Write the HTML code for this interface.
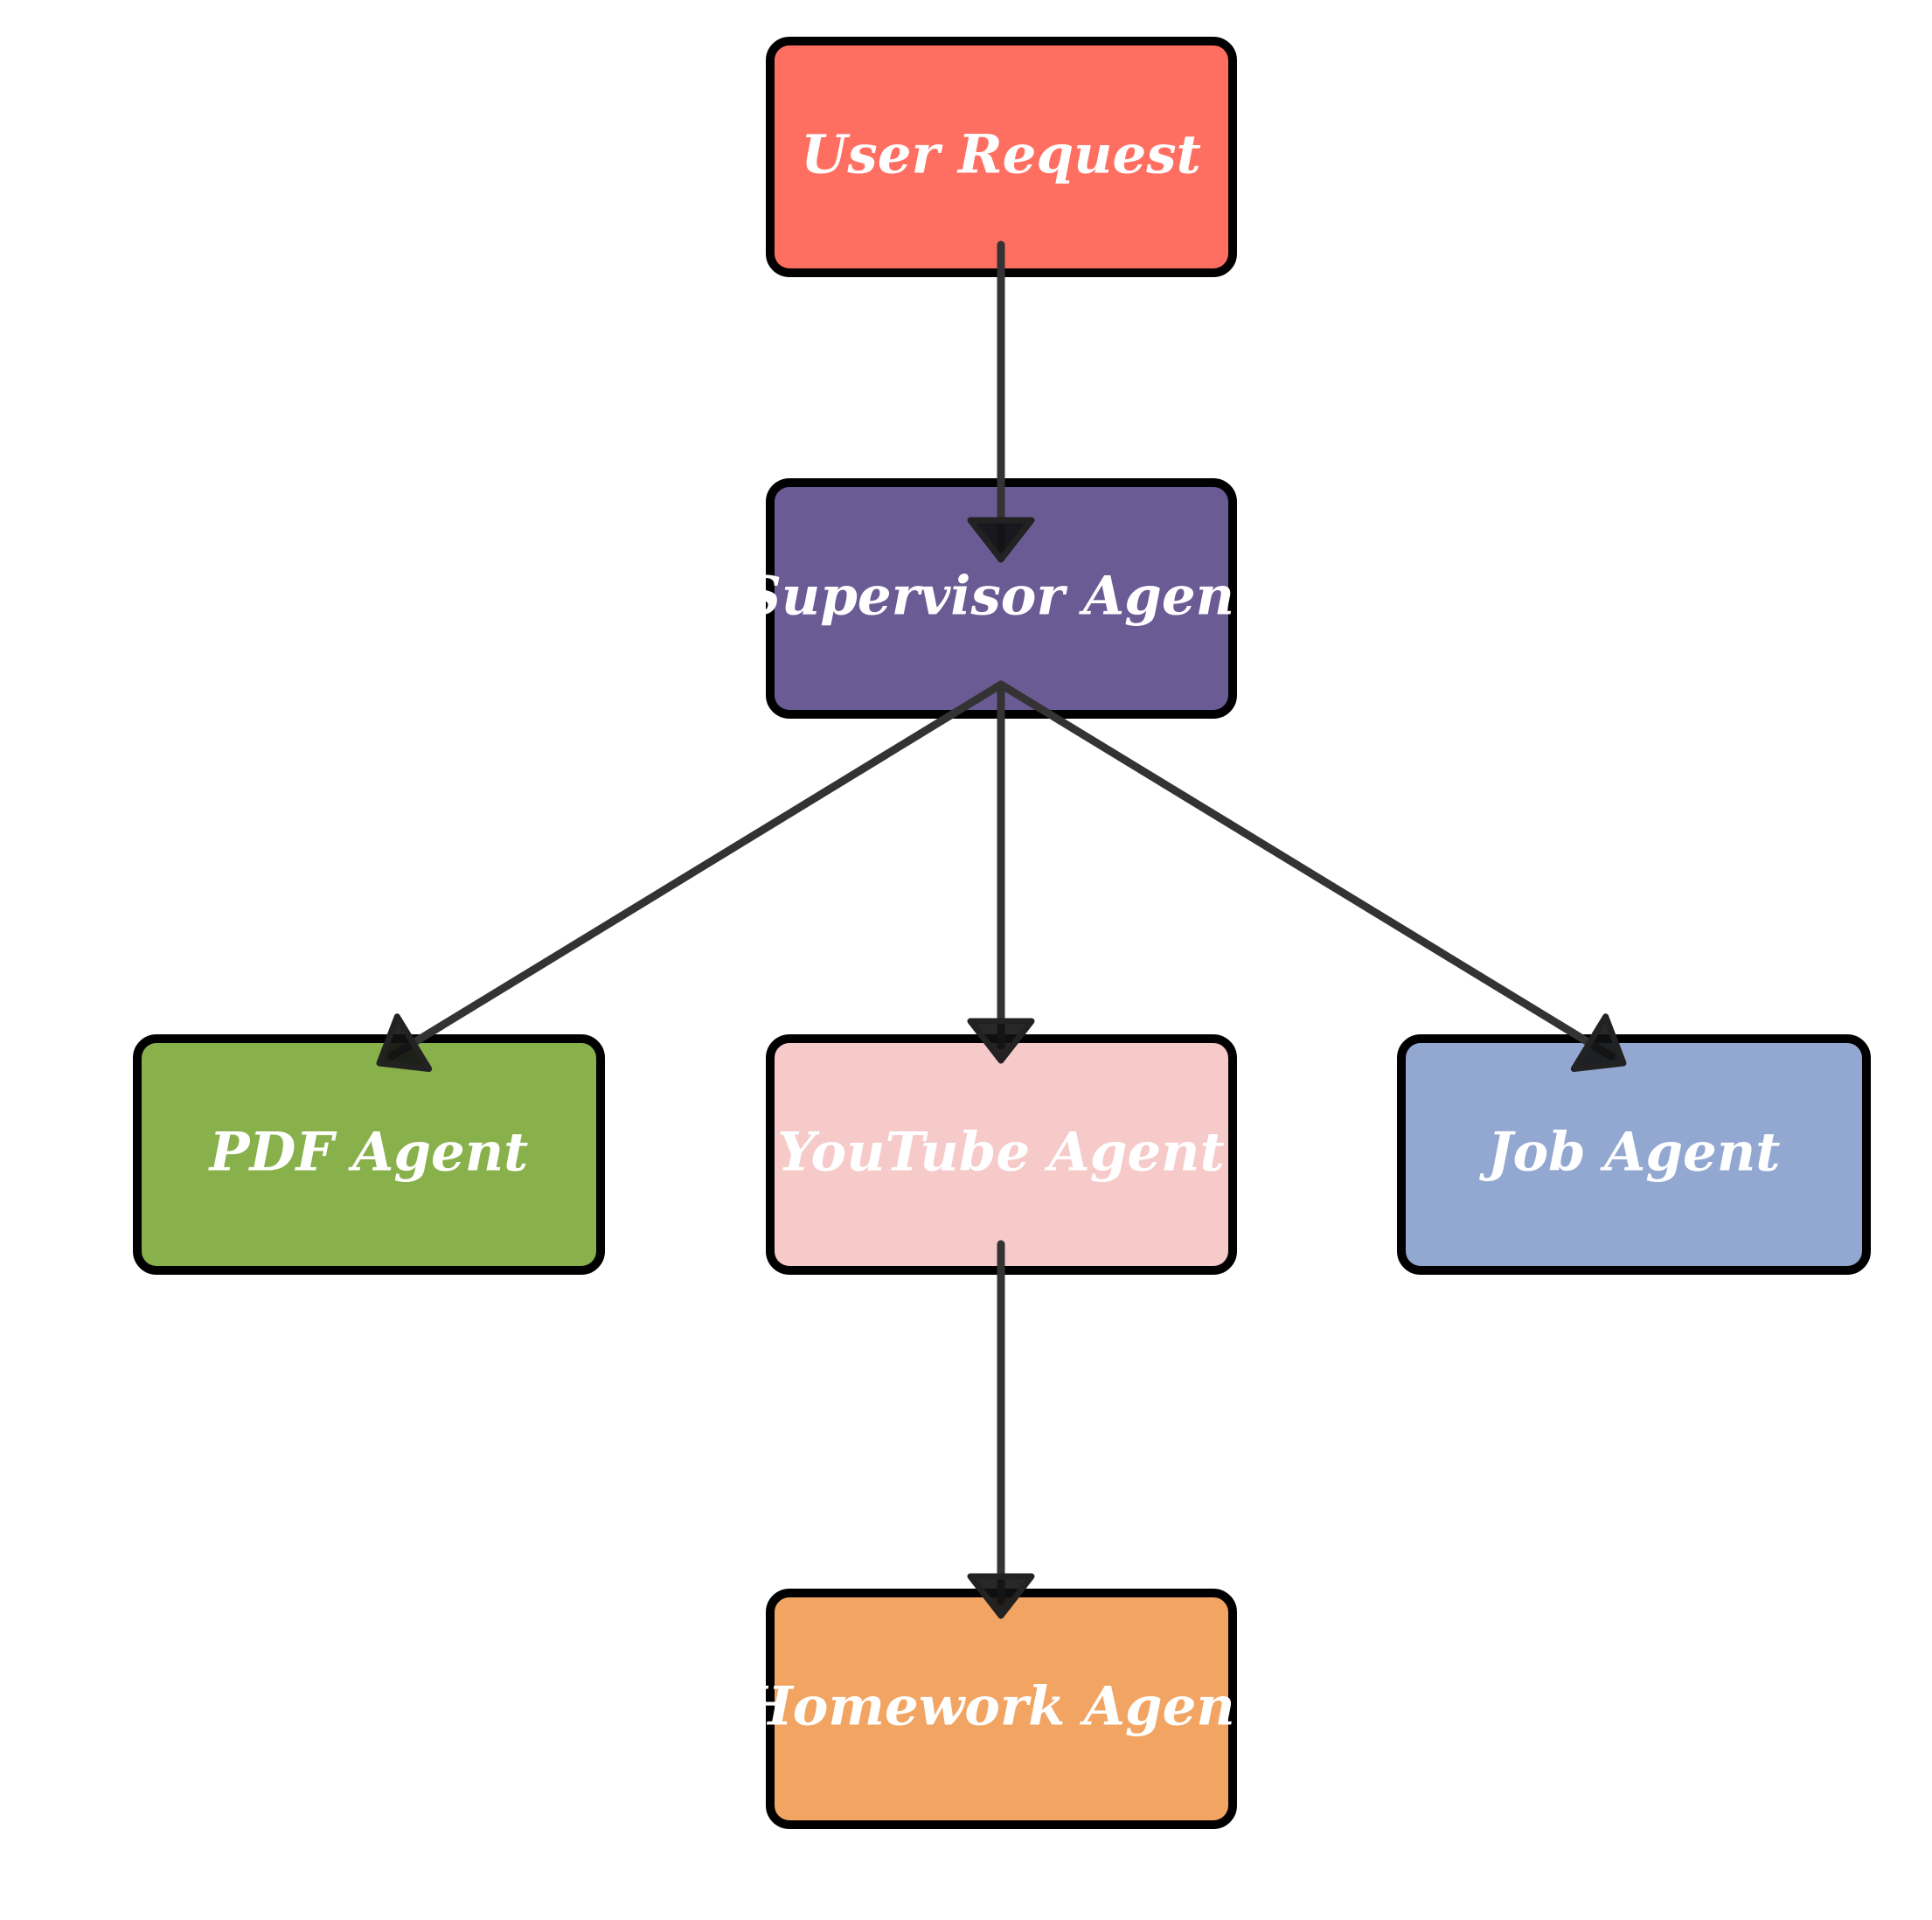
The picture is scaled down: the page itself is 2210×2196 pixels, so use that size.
<!DOCTYPE html>
<html><head><meta charset="utf-8"><style>
html,body{margin:0;padding:0;background:#fff;}
svg{display:block;}
text{font-family:"DejaVu Serif","Liberation Serif",serif;font-weight:bold;font-style:italic;font-size:61px;fill:#fff;}
</style></head><body>
<svg width="2210" height="2196" viewBox="0 0 2210 2196" xmlns="http://www.w3.org/2000/svg">
<g stroke="#000" stroke-width="10">
<rect x="881" y="47" width="529" height="265" rx="22" fill="#FF6F61"/>
<rect x="881" y="552" width="529" height="265" rx="22" fill="#6B5B95"/>
<rect x="157" y="1188" width="530" height="265" rx="22" fill="#88B04B"/>
<rect x="881" y="1188" width="529" height="265" rx="22" fill="#F7CACA"/>
<rect x="1603" y="1188" width="532" height="265" rx="22" fill="#92A8D1"/>
<rect x="881" y="1822" width="529" height="265" rx="22" fill="#F2A462"/>
</g>
<g text-anchor="middle" dominant-baseline="central">
<text x="1145" y="177">User Request</text>
<text x="1145" y="682">Supervisor Agent</text>
<text x="422" y="1318">PDF Agent</text>
<text x="1145" y="1318">YouTube Agent</text>
<text x="1869" y="1318">Job Agent</text>
<text x="1145" y="1952">Homework Agent</text>
</g>
<g stroke="#333" stroke-width="9" stroke-linecap="round" fill="none">
<line x1="1145" y1="280" x2="1145" y2="626"/>
<line x1="1145" y1="783" x2="1145" y2="1196"/>
<line x1="1145" y1="783" x2="448" y2="1208"/>
<line x1="1145" y1="783" x2="1843" y2="1208"/>
<line x1="1145" y1="1423" x2="1145" y2="1831"/>
</g>
<g fill="#111" fill-opacity="0.9" stroke="#222" stroke-width="7" stroke-linejoin="round">
<polygon points="1110,595 1180,595 1145,640"/>
<polygon points="1110,1168 1180,1168 1145,1213"/>
<polygon points="1110,1803 1180,1803 1145,1848"/>
<polygon points="490.7,1222.5 454.3,1162.7 434,1216"/>
<polygon points="1800.3,1222.5 1836.7,1162.7 1857,1216"/>
</g>
</svg>
</body></html>
